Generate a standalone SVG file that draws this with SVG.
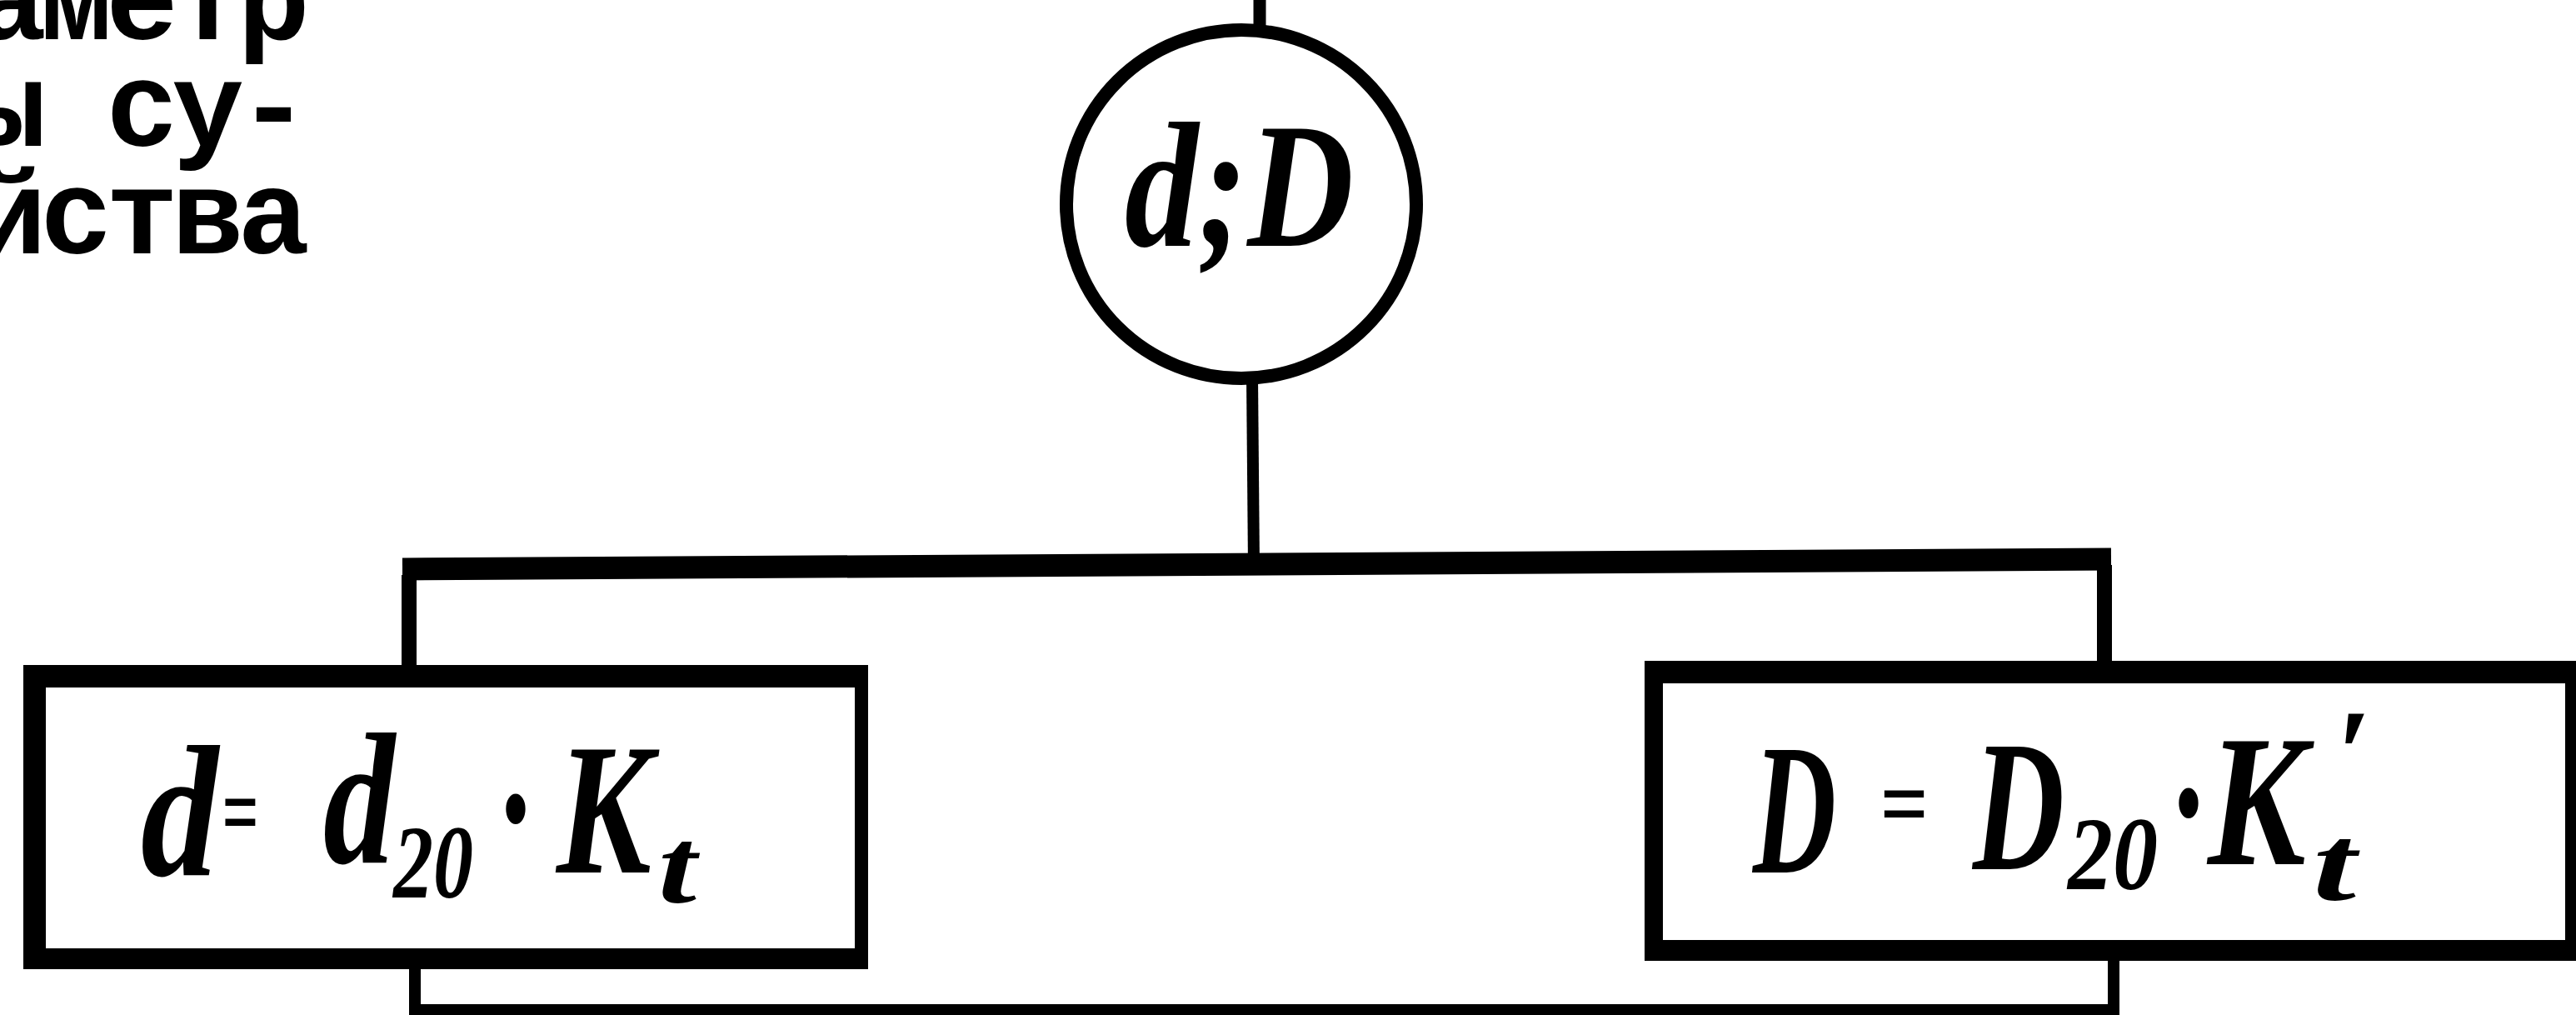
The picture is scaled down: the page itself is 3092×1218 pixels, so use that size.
<svg xmlns="http://www.w3.org/2000/svg" width="3092" height="1218" viewBox="0 0 3092 1218">
<style>
.ln{stroke:#000;fill:none;stroke-linecap:butt;stroke-linejoin:miter}
.box{fill:#000;fill-rule:evenodd}
.f{font-family:"Liberation Serif","DejaVu Serif",serif;font-style:italic;font-weight:bold;fill:#000;font-size:225px}
.c{font-size:215px}
.sub{font-size:125px}
.eq{font-size:120px}
.sm{font-size:130px}
.pr{font-size:150px}
.tw{font-family:"Liberation Mono","DejaVu Sans Mono",monospace;font-weight:bold;font-size:145px;letter-spacing:-8px;fill:#000}
</style>
<rect width="3092" height="1218" fill="#fff"/>
<g id="note">
<text class="tw" x="-31" y="47">аметр</text>
<text class="tw" x="-31" y="175">ы су-</text>
<text class="tw" x="-31" y="304">йства</text>
</g>
<g id="connectors">
<line class="ln" x1="1512" y1="0" x2="1512" y2="38" stroke-width="15"/>
<line class="ln" x1="1503" y1="452" x2="1505" y2="680" stroke-width="14"/>
<line class="ln" x1="483" y1="683" x2="2534" y2="671" stroke-width="27"/>
<line class="ln" x1="491" y1="690" x2="491" y2="800" stroke-width="18"/>
<line class="ln" x1="2526" y1="678" x2="2526" y2="795" stroke-width="18"/>
<polyline class="ln" points="498,1160 498,1212 2537,1212 2537,1153" stroke-width="14"/>
<line class="ln" x1="2537" y1="1205" x2="2537" y2="1218" stroke-width="14"/>
</g>
<g id="node-dD">
<ellipse cx="1490" cy="245" rx="210" ry="209" fill="#fff" stroke="#000" stroke-width="16"/>
<text class="f c" x="1350" y="295" textLength="275" lengthAdjust="spacingAndGlyphs">d;D</text>
</g>
<g id="node-d">
<path class="box" d="M28 798H1042V1163H28Z M55 825V1138H1026V825Z"/>
<text class="f"><tspan x="169" y="1050" textLength="93" lengthAdjust="spacingAndGlyphs">d</tspan><tspan class="eq" x="266" y="1015" textLength="44" lengthAdjust="spacingAndGlyphs">=</tspan><tspan x="388" y="1035" textLength="86" lengthAdjust="spacingAndGlyphs">d</tspan><tspan class="sub" x="472" y="1077" textLength="96" lengthAdjust="spacingAndGlyphs">20</tspan><tspan x="600" y="1045" textLength="36" lengthAdjust="spacingAndGlyphs">·</tspan><tspan x="668" y="1047" textLength="114" lengthAdjust="spacingAndGlyphs">K</tspan><tspan class="sm" x="790" y="1083" textLength="46" lengthAdjust="spacingAndGlyphs">t</tspan></text>
</g>
<g id="node-D">
<path class="box" d="M1974 793H3092V1153H1974Z M1996 820V1128H3079V820Z"/>
<text class="f"><tspan x="2104" y="1047" textLength="100" lengthAdjust="spacingAndGlyphs">D</tspan><tspan class="eq" x="2256" y="1005" textLength="58" lengthAdjust="spacingAndGlyphs">=</tspan><tspan x="2368" y="1043" textLength="110" lengthAdjust="spacingAndGlyphs">D</tspan><tspan class="sub" x="2482" y="1067" textLength="108" lengthAdjust="spacingAndGlyphs">20</tspan><tspan x="2608" y="1038" textLength="36" lengthAdjust="spacingAndGlyphs">·</tspan><tspan x="2650" y="1037" textLength="118" lengthAdjust="spacingAndGlyphs">K</tspan><tspan class="pr" x="2803" y="955">′</tspan><tspan class="sm" x="2776" y="1080" textLength="52" lengthAdjust="spacingAndGlyphs">t</tspan></text>
</g>
</svg>
